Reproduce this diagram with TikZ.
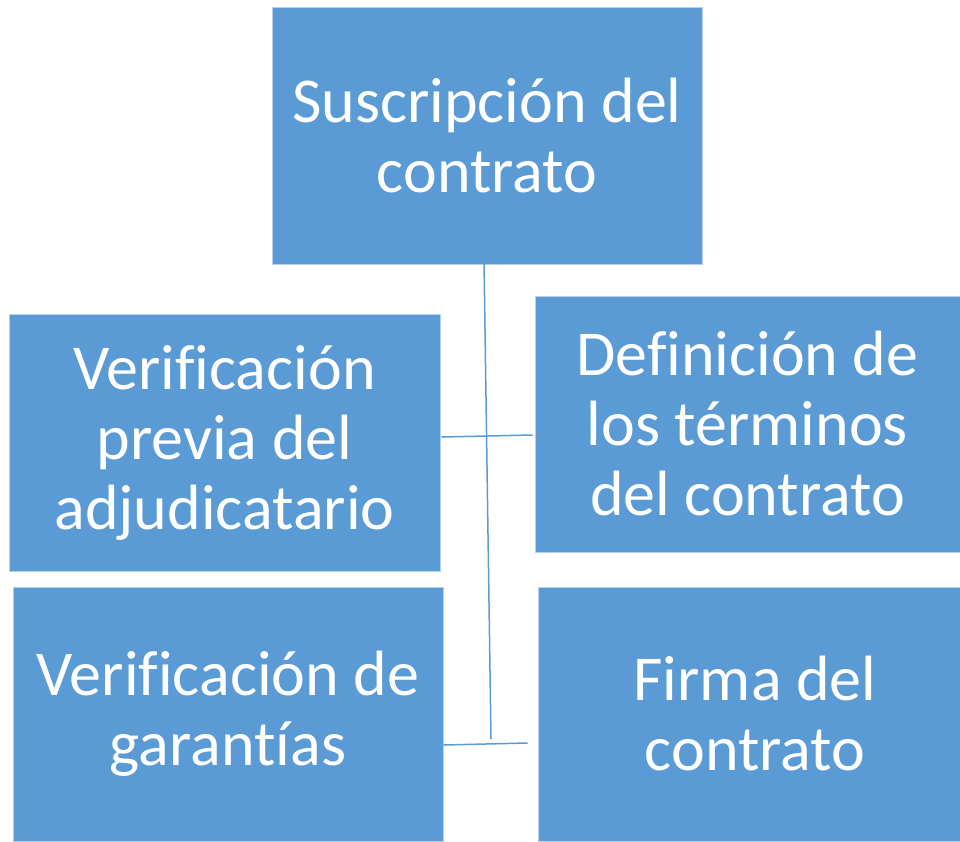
\documentclass[tikz,border=0pt]{standalone}
\usepackage{fontspec}
\setmainfont[Ligatures=NoCommon]{Carlito}
\definecolor{boxblue}{HTML}{5B9BD5}

\begin{document}
\begin{tikzpicture}[x=1pt,y=-1pt,font=\fontsize{64}{70}\selectfont,
  stepbox/.style={fill=boxblue, draw=white!55!boxblue, line width=1pt, text=white, align=center, inner sep=0pt},
  link/.style={boxblue, line width=1.5pt}]

\useasboundingbox (0,0) rectangle (960,841);

\node[stepbox, minimum width=430, minimum height=257] (top) at (487,135.5) {Suscripción del\\contrato};

\node[stepbox, minimum width=431, minimum height=257] (prev) at (224.5,442.5) {Verificación\\previa del\\adjudicatario};
\node[stepbox, minimum width=425, minimum height=256] (terms) at (747.5,424) {Definición de\\los términos\\del contrato};

\node[stepbox, minimum width=430, minimum height=254] (guar) at (228,714) {Verificación de\\garantías};
\node[stepbox, minimum width=434, minimum height=254] (sign) at (755,714) {Firma del\\contrato};

\coordinate (trunk) at (491,739);

\draw[link] ([xshift=-3pt,yshift=3pt]top.south) -- (trunk);
\draw[link] ([xshift=1pt,yshift=5.5pt]prev.east) -- ([xshift=-2pt,yshift=-11pt]terms.west);
\draw[link] ([yshift=-31pt]guar.east) -- ([xshift=-10pt,yshift=-29pt]sign.west);

\end{tikzpicture}
\end{document}
